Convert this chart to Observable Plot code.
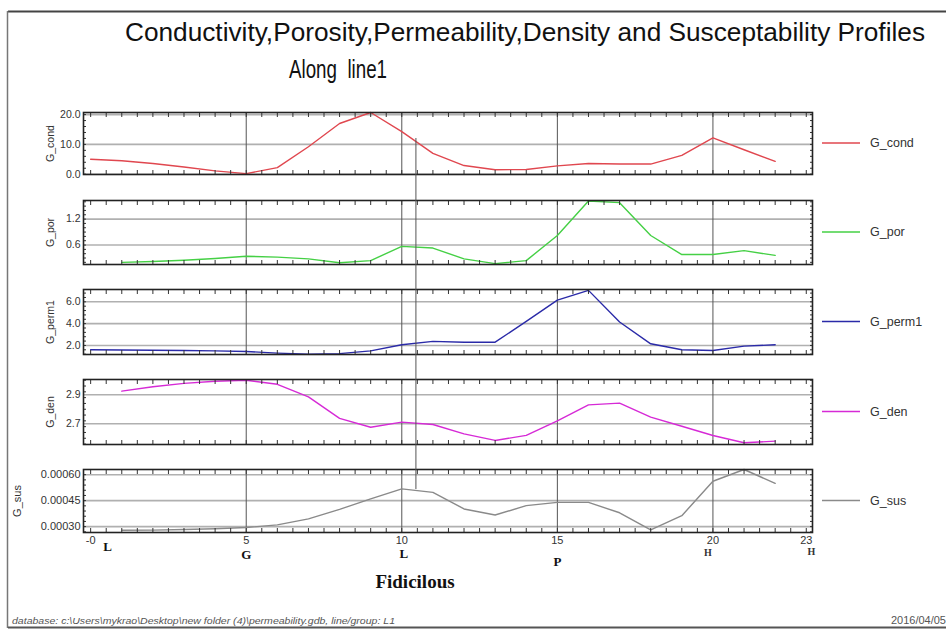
<!DOCTYPE html>
<html><head><meta charset="utf-8">
<script src="https://cdn.jsdelivr.net/npm/d3@7"></script>
<script src="https://cdn.jsdelivr.net/npm/@observablehq/plot@0.6"></script>
<style>
body{margin:0;background:#fff;}
#root{position:relative;width:946px;height:631px;overflow:hidden;background:#fff;font-family:"Liberation Sans",Arial,sans-serif;}
.panel{position:absolute;left:0;}
#overlay{position:absolute;left:0;top:0;pointer-events:none;z-index:5;}
</style></head><body><div id="root"></div>
<script>
// ---------- data ----------
const fid = [0,1,2,3,4,5,6,7,8,9,10,11,12,13,14,15,16,17,18,19,20,21,22];
const gCond  = [5.0,4.5,3.6,2.4,1.1,0.2,2.2,9.2,17.0,20.7,14.3,7.0,2.9,1.5,1.6,2.8,3.6,3.4,3.4,6.3,12.2,8.2,4.3];
const gPor   = [null,0.20,0.22,0.25,0.29,0.34,0.32,0.28,0.19,0.24,0.57,0.53,0.28,0.17,0.24,0.82,1.62,1.58,0.82,0.38,0.38,0.47,0.36];
const gPerm1 = [1.60,1.58,1.56,1.54,1.50,1.45,1.30,1.20,1.25,1.50,2.06,2.37,2.30,2.30,4.20,6.15,7.05,4.15,2.15,1.60,1.54,1.94,2.06];
const gDen   = [null,2.925,2.955,2.978,2.993,3.0,2.972,2.885,2.737,2.676,2.711,2.695,2.63,2.585,2.62,2.72,2.83,2.842,2.746,2.683,2.619,2.569,2.58];
const gSus   = [null,0.000279,0.00028,0.000283,0.000288,0.000295,0.00031,0.000345,0.0004,0.00046,0.000518,0.000498,0.000402,0.000367,0.000421,0.00044,0.00044,0.00038,0.000281,0.000363,0.000562,0.00063,0.00055];

const seriesNames = ["G_cond","G_por","G_perm1","G_den","G_sus"];
const condTicks = [0,10,20],            condTickLabels = ["0.0","10.0","20.0"];
const porTicks = [0.6,1.2],             porTickLabels = ["0.6","1.2"];
const permTicks = [2,4,6],              permTickLabels = ["2.0","4.0","6.0"];
const denTicks = [2.7,2.9],             denTickLabels = ["2.7","2.9"];
const susTicks = [0.0003,0.00045,0.0006], susTickLabels = ["0.00030","0.00045","0.00060"];

const xTickVals = [0,5,10,15,20,23];
const xTickLabels = ["-0","5","10","15","20","23"];
const stationLabels = ["L","G","L","P","H","H"];
const gridX = [5,10,15,20];
const cursorFid = [10.47];

const titleText = "Conductivity,Porosity,Permeability,Density and Susceptability Profiles";
const subtitleText = "Along  line1";
const xAxisTitle = "Fidicilous";
const footerLeft = "database: c:\\Users\\mykrao\\Desktop\\new folder (4)\\permeability.gdb, line/group: L1";
const footerRight = "2016/04/05";

// ---------- layout ----------
const W = 946, H = 631, ML = 83, MR = 134, MT = 10;
const xDomain = [-0.23, 23.2];
const halfTicks = d3.range(0, 23.01, 0.5);

const panels = [
  {name:"G_cond",  values:gCond,  color:"#e0474f", domain:[-0.1,20.7],        ticks:condTicks, labels:condTickLabels, minorStep:2,        top:112, h:62},
  {name:"G_por",   values:gPor,   color:"#45d045", domain:[0.15,1.63],        ticks:porTicks,  labels:porTickLabels,  minorStep:0.1,      top:200, h:64},
  {name:"G_perm1", values:gPerm1, color:"#2a2aa8", domain:[1.17,7.13],        ticks:permTicks, labels:permTickLabels, minorStep:0.4,      top:289, h:65},
  {name:"G_den",   values:gDen,   color:"#d62ad6", domain:[2.557,3.005],      ticks:denTicks,  labels:denTickLabels,  minorStep:0.04,     top:379, h:65},
  {name:"G_sus",   values:gSus,   color:"#8a8a8a", domain:[0.000266,0.00063], ticks:susTicks,  labels:susTickLabels,  minorStep:0.00003,  top:469, h:63, bottom:true}
];

const root = document.getElementById("root");
let xScale = null;

panels.forEach((p) => {
  const data = fid.map((f, i) => ({f, v: p.values[i]}));
  const minor = d3.range(Math.ceil(p.domain[0]/p.minorStep)*p.minorStep, p.domain[1], p.minorStep);
  const MB = p.bottom ? 60 : 10;
  const fmt = d => p.labels[p.ticks.indexOf(d)];
  const marks = [
    Plot.gridY(p.ticks, {stroke:"#b0b0b0", strokeOpacity:1, strokeWidth:1.6}),
    Plot.ruleX(gridX, {stroke:"#555", strokeWidth:1}),
    Plot.line(data, {x:"f", y:"v", stroke:p.color, strokeWidth:1.4}),
    Plot.axisY({anchor:"left", ticks:p.ticks, tickFormat:fmt, tickSize:0, tickPadding:3,
      fontSize: p.bottom ? 11 : 10.5,
      label:p.name, labelAnchor:"center", labelOffset: p.bottom ? 70 : 37, labelArrow:"none"}),
    Plot.axisY({anchor:"left", ticks:minor, tickSize:-3, tickFormat:() => "", label:null}),
    Plot.axisY({anchor:"right", ticks:minor, tickSize:-3, tickFormat:() => "", label:null}),
    Plot.axisX({anchor:"top", ticks:halfTicks, tickSize:-4, tickFormat:() => "", label:null}),
    Plot.axisX({anchor:"bottom", ticks:halfTicks, tickSize:-4, tickFormat:() => "", label:null}),
    Plot.frame({stroke:"#222", strokeWidth:1.6})
  ];
  if (p.bottom) {
    const st = xTickVals.map((x, i) => ({x, t: stationLabels[i]}));
    marks.push(
      Plot.axisX({anchor:"bottom", ticks:xTickVals, tickFormat:d => xTickLabels[xTickVals.indexOf(d)], tickSize:0, tickPadding:4, fontSize:11, label:null}),
      Plot.text([st[0]], {x:"x", text:"t", frameAnchor:"bottom", dx:17, dy:18, fontFamily:"Liberation Serif", fontWeight:"bold", fontSize:13, fill:"#111"}),
      Plot.text([st[1]], {x:"x", text:"t", frameAnchor:"bottom", dy:26, fontFamily:"Liberation Serif", fontWeight:"bold", fontSize:13, fill:"#111"}),
      Plot.text([st[2]], {x:"x", text:"t", frameAnchor:"bottom", dx:2, dy:25, fontFamily:"Liberation Serif", fontWeight:"bold", fontSize:13, fill:"#111"}),
      Plot.text([st[3]], {x:"x", text:"t", frameAnchor:"bottom", dy:33, fontFamily:"Liberation Serif", fontWeight:"bold", fontSize:13, fill:"#111"}),
      Plot.text([st[4]], {x:"x", text:"t", frameAnchor:"bottom", dx:-5, dy:23, fontFamily:"Liberation Serif", fontWeight:"bold", fontSize:10, fill:"#333"}),
      Plot.text([st[5]], {x:"x", text:"t", frameAnchor:"bottom", dx:5, dy:22, fontFamily:"Liberation Serif", fontWeight:"bold", fontSize:10, fill:"#333"})
    );
  }
  const chart = Plot.plot({
    width: W, height: MT + p.h + MB,
    marginLeft: ML, marginRight: MR, marginTop: MT, marginBottom: MB,
    x: {domain: xDomain},
    y: {domain: p.domain},
    style: {fontFamily:"Liberation Sans, Arial, sans-serif", fontSize:"11px", color:"#333", background:"transparent", overflow:"visible"},
    marks
  });
  chart.classList.add("panel");
  chart.style.top = (p.top - MT) + "px";
  root.appendChild(chart);
  if (!xScale) xScale = chart.scale("x");
});

// ---------- overlay: titles, legend, cursor, footer, border ----------
const svg = d3.select(root).append("svg").attr("id","overlay").attr("width",W).attr("height",H)
  .style("font-family","Liberation Sans, Arial, sans-serif");

// border
svg.append("line").attr("x1",8).attr("x2",W).attr("y1",11.5).attr("y2",11.5).attr("stroke","#444").attr("stroke-width",2);
svg.append("line").attr("x1",7.5).attr("x2",7.5).attr("y1",11).attr("y2",628).attr("stroke","#777").attr("stroke-width",1.5);
svg.append("line").attr("x1",8).attr("x2",W).attr("y1",627.5).attr("y2",627.5).attr("stroke","#555").attr("stroke-width",2);

// title
svg.append("text").attr("x",125).attr("y",41).attr("font-size",25.5).attr("fill","#111")
  .attr("textLength",800).attr("lengthAdjust","spacingAndGlyphs").text(titleText);
svg.append("text").attr("x",289).attr("y",78).attr("font-size",25.5).attr("fill","#111")
  .attr("xml:space","preserve").style("white-space","pre")
  .attr("textLength",98).attr("lengthAdjust","spacingAndGlyphs").text(subtitleText);

// cursor line
svg.selectAll("line.cursor").data(cursorFid).join("line").attr("class","cursor")
  .attr("x1", d => xScale.apply(d)).attr("x2", d => xScale.apply(d))
  .attr("y1",138).attr("y2",489).attr("stroke","#555").attr("stroke-width",1);

// legend
panels.forEach((p, i) => {
  const cy = p.top + p.h / 2;
  svg.append("line").attr("x1",822).attr("x2",860).attr("y1",cy).attr("y2",cy).attr("stroke",p.color).attr("stroke-width",1.5);
  svg.append("text").attr("x",870).attr("y",cy).attr("dy","0.35em").attr("font-size",12.5).attr("fill","#333").text(seriesNames[i]);
});

// x axis title
svg.append("text").attr("x",415).attr("y",588).attr("text-anchor","middle")
  .attr("font-family","Liberation Serif, Times New Roman, serif").attr("font-weight","bold").attr("font-size",19).attr("fill","#111")
  .text(xAxisTitle);

// footer
svg.append("text").attr("x",12).attr("y",624).attr("font-size",9.5).attr("font-style","italic").attr("fill","#555")
  .attr("textLength",383).attr("lengthAdjust","spacingAndGlyphs").text(footerLeft);
svg.append("text").attr("x",946).attr("y",624).attr("text-anchor","end").attr("font-size",11).attr("fill","#555").text(footerRight);
</script></body></html>
